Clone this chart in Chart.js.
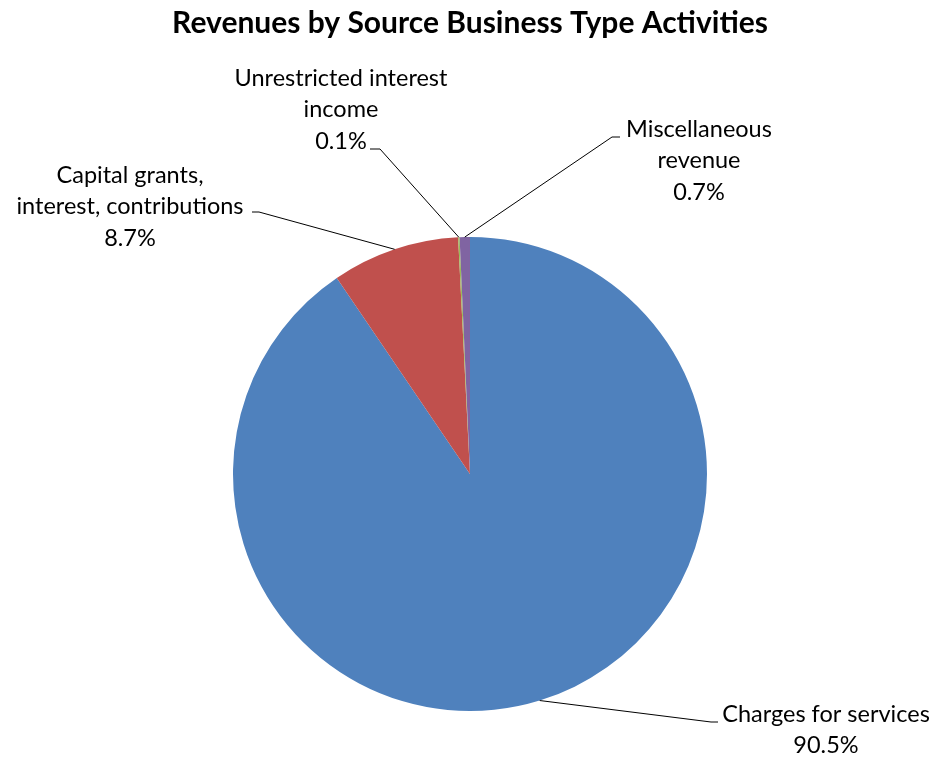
<!DOCTYPE html>
<html>
<head>
<meta charset="utf-8">
<script src="https://cdn.jsdelivr.net/npm/chart.js@4.4.1/dist/chart.umd.min.js"></script>
<style>
    html, body { margin: 0; padding: 0; background: #fff; }
    #wrap { width: 935px; height: 757px; }
</style>
</head>
<body>
<div id="wrap"><canvas id="revenueChart" width="935" height="757"></canvas></div>
<script>
const categories = ['Charges for services', 'Capital grants, interest, contributions', 'Unrestricted interest income', 'Miscellaneous revenue'];
const labelLines = [
    ['Charges for services'],
    ['Capital grants,', 'interest, contributions'],
    ['Unrestricted interest', 'income'],
    ['Miscellaneous', 'revenue']
];
const shares = [90.5, 8.7, 0.1, 0.7];
const sliceColors = ['#4F81BD', '#C0504D', '#9BBB59', '#8064A2'];

const FONT = 'Lato, "Open Sans", sans-serif';

// where each label sits: text centre, first line y, leader elbow and end
const labelSpots = [
    { x: 826, y: 714, elbow: [711, 722], end: [718, 722] },
    { x: 130, y: 175, elbow: [259, 212], end: [252, 212] },
    { x: 341, y: 78, elbow: [380, 149], end: [370, 149] },
    { x: 699, y: 129, elbow: [612, 137], end: [620, 137] }
];

const leaderLabels = {
    id: 'leaderLabels',
    afterDatasetsDraw(chart) {
        const ctx = chart.ctx;
        const meta = chart.getDatasetMeta(0);
        ctx.save();
        meta.data.forEach((arc, i) => {
            const mid = (arc.startAngle + arc.endAngle) / 2;
            const sx = arc.x + Math.cos(mid) * arc.outerRadius;
            const sy = arc.y + Math.sin(mid) * arc.outerRadius;
            const spot = labelSpots[i];

            ctx.strokeStyle = '#000';
            ctx.lineWidth = 1;
            ctx.beginPath();
            ctx.moveTo(sx, sy);
            ctx.lineTo(spot.elbow[0], spot.elbow[1]);
            ctx.lineTo(spot.end[0], spot.end[1]);
            ctx.stroke();

            ctx.fillStyle = '#000';
            ctx.font = '23.5px ' + FONT;
            ctx.textAlign = 'center';
            ctx.textBaseline = 'middle';
            const lines = labelLines[i].concat([shares[i].toFixed(1) + '%']);
            lines.forEach((t, j) => {
                ctx.fillText(t, spot.x, spot.y + j * 31.7);
            });
        });
        ctx.restore();
    }
};

new Chart(document.getElementById('revenueChart'), {
    type: 'pie',
    data: {
        labels: categories,
        datasets: [{
            data: shares,
            backgroundColor: sliceColors,
            borderWidth: 0
        }]
    },
    options: {
        responsive: false,
        animation: false,
        layout: {
            padding: { top: 0, bottom: 46, left: 5, right: 0 }
        },
        plugins: {
            legend: { display: false },
            tooltip: { enabled: false },
            title: {
                display: true,
                text: 'Revenues by Source Business Type Activities',
                color: '#000',
                font: { family: FONT, size: 30, weight: 'bold', lineHeight: 1.2 },
                padding: { top: 5, bottom: 196 }
            }
        }
    },
    plugins: [leaderLabels]
});
</script>
</body>
</html>
